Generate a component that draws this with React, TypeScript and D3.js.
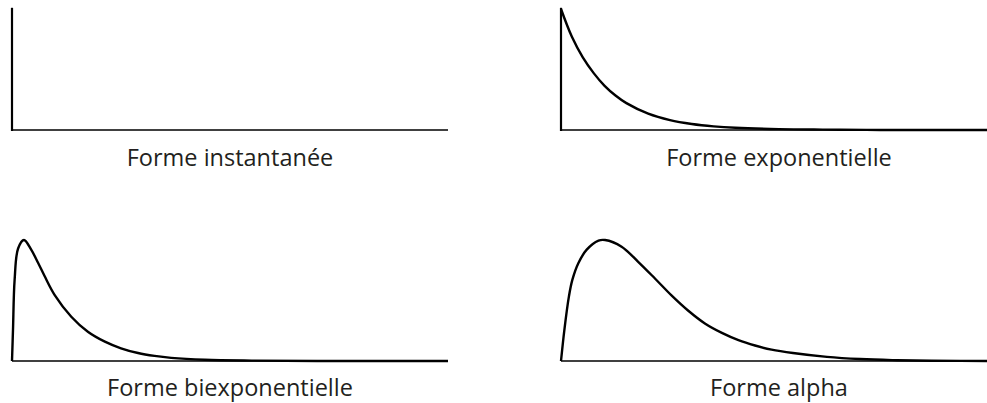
import React from "react";
import * as d3 from "d3";

// Synaptic current waveforms, time in arbitrary units (0–10), amplitude normalised to 1
const panelTitles = ["Forme instantanée", "Forme exponentielle", "Forme biexponentielle", "Forme alpha"];

const impulseT = [0, 0];
const impulseV = [0, 1.01];

const expT = [0, 0.25, 0.5, 0.75, 1, 1.25, 1.5, 2, 2.5, 3, 3.5, 4, 5, 6, 7, 8, 10];
const expV = [1, 0.77, 0.6, 0.47, 0.365, 0.285, 0.222, 0.135, 0.082, 0.05, 0.03, 0.018, 0.007, 0.003, 0.001, 0, 0];

const biT = [0, 0.023, 0.06, 0.14, 0.275, 0.44, 0.6, 0.75, 0.98, 1.36, 1.74, 2.13, 2.5, 2.89, 3.27, 3.65, 4.42, 5.5, 7, 10];
const biV = [0, 0.26, 0.67, 0.93, 1.0, 0.92, 0.81, 0.7, 0.545, 0.366, 0.242, 0.16, 0.105, 0.066, 0.042, 0.026, 0.01, 0.003, 0, 0];

const alphaT = [0, 0.077, 0.18, 0.26, 0.4, 0.59, 0.86, 1.01, 1.39, 1.77, 2.16, 2.54, 2.92, 3.3, 3.69, 4.07, 4.45, 4.83, 5.32, 6.1, 6.86, 7.6, 8.5, 10];
const alphaV = [0, 0.256, 0.53, 0.67, 0.81, 0.92, 0.995, 1.0, 0.945, 0.82, 0.68, 0.54, 0.415, 0.31, 0.232, 0.172, 0.128, 0.094, 0.066, 0.034, 0.016, 0.007, 0.002, 0];

const W = 987;
const H = 403;
const PANEL_W = 436;
const PANEL_H = 121;
const colLeft = [12, 561];
const rowBase = [130, 361];
const labelY = [165.5, 396];

type Pt = [number, number];
const zip = (t: number[], v: number[]): Pt[] => t.map((d, i) => [d, v[i]]);

function Panel({ col, row, title, series, axisV }: { col: number; row: number; title: string; series: Pt[] | null; axisV: boolean }) {
  const x0 = colLeft[col];
  const base = rowBase[row];
  const x = d3.scaleLinear().domain([0, 10]).range([x0, x0 + PANEL_W]);
  const y = d3.scaleLinear().domain([0, 1]).range([base, base - PANEL_H]);
  const line = d3
    .line<Pt>()
    .x((d) => x(d[0]))
    .y((d) => y(d[1]))
    .curve(d3.curveCatmullRom.alpha(0.5));
  return (
    <g>
      <line x1={x(0)} x2={x(10)} y1={y(0)} y2={y(0)} stroke="#000" strokeWidth={1.5} />
      {axisV && (
        <line x1={x(impulseT[0])} x2={x(impulseT[1])} y1={y(impulseV[0]) + 1} y2={y(impulseV[1])} stroke="#000" strokeWidth={2.2} />
      )}
      {series && <path d={line(series) || ""} fill="none" stroke="#000" strokeWidth={2.4} strokeLinejoin="round" />}
      <text x={x(5)} y={labelY[row]} textAnchor="middle" fontFamily="'Open Sans', sans-serif" fontSize={23.5} fill="#231f20">
        {title}
      </text>
    </g>
  );
}

export default function App() {
  return (
    <svg width={W} height={H} style={{ position: "absolute", left: 0, top: 0, background: "#fff" }}>
      <Panel col={0} row={0} title={panelTitles[0]} series={null} axisV={true} />
      <Panel col={1} row={0} title={panelTitles[1]} series={zip(expT, expV)} axisV={true} />
      <Panel col={0} row={1} title={panelTitles[2]} series={zip(biT, biV)} axisV={false} />
      <Panel col={1} row={1} title={panelTitles[3]} series={zip(alphaT, alphaV)} axisV={false} />
    </svg>
  );
}
